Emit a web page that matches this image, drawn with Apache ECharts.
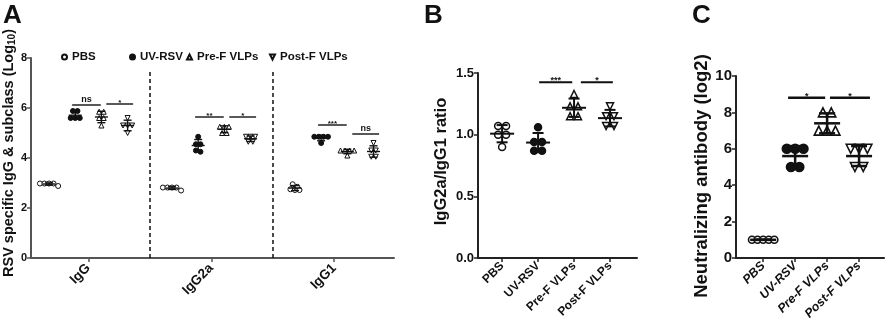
<!DOCTYPE html>
<html><head><meta charset="utf-8">
<script src="https://cdn.jsdelivr.net/npm/echarts@6/dist/echarts.min.js"></script>
<style>html,body{margin:0;padding:0;background:#fff}#c{width:886px;height:335px}</style>
</head><body><div id="c"></div>
<script>
// ---------------- DATA ----------------
const groups = ['PBS', 'UV-RSV', 'Pre-F VLPs', 'Post-F VLPs'];
const isotypes = ['IgG', 'IgG2a', 'IgG1'];
// Panel A: RSV specific IgG & subclass (Log10), per isotype (IgG, IgG2a, IgG1), 5 mice each
const pbsA  = [[2.98, 2.98, 2.98, 2.98, 2.88], [2.82, 2.82, 2.82, 2.82, 2.70], [2.85, 2.95, 2.75, 2.72, 2.72]];
const uvA   = [[5.88, 5.88, 5.60, 5.60, 5.60], [4.85, 4.55, 4.55, 4.30, 4.25], [4.85, 4.85, 4.85, 4.85, 4.60]];
const preA  = [[5.85, 5.85, 5.60, 5.60, 5.30], [5.25, 5.25, 5.25, 5.00, 5.00], [4.30, 4.30, 4.30, 4.30, 4.10]];
const postA = [[5.60, 5.30, 5.30, 5.30, 5.00], [4.85, 4.85, 4.85, 4.65, 4.65], [4.60, 4.30, 4.30, 4.05, 4.05]];
// Panel B: IgG2a/IgG1 ratio
const pbsB  = [1.07, 1.07, 1.00, 1.00, 0.90];
const uvB   = [1.06, 0.94, 0.94, 0.87, 0.87];
const preB  = [1.33, 1.23, 1.23, 1.15, 1.15];
const postB = [1.23, 1.15, 1.15, 1.07, 1.07];
// Panel C: Neutralizing antibody (log2)
const pbsC  = [1, 1, 1, 1, 1];
const uvC   = [6, 6, 6, 5, 5];
const preC  = [8, 8, 7, 7, 7];
const postC = [6, 6, 6, 5, 5];
// significance: [isotype, fromGroup, toGroup, level, label]
const sigA = [[0, 1, 2, 6.12, 'ns'], [0, 2, 3, 6.16, '*'], [1, 1, 2, 5.64, '**'], [1, 2, 3, 5.64, '*'], [2, 1, 2, 5.32, '***'], [2, 2, 3, 4.96, 'ns']];
const sigB = [[1, 2, 1.425, '***'], [2, 3, 1.425, '*']];
const sigC = [[1, 2, 8.8, '*'], [2, 3, 8.8, '*']];

// ---------------- HELPERS ----------------
const FONT = 'Arial, "Liberation Sans", sans-serif';
const INK = '#111';
function mean(a) { return a.reduce((s, v) => s + v, 0) / a.length; }
function sd(a) { const m = mean(a); return Math.sqrt(a.reduce((s, v) => s + (v - m) * (v - m), 0) / (a.length - 1)); }
// arrange points of one group in rows of (nearly) equal value
function layout(values, cx, step, maxW, tol) {
  const sorted = values.slice().sort((a, b) => b - a);
  const rows = [];
  sorted.forEach(v => {
    const r = rows.find(r => Math.abs(r[0] - v) <= tol);
    if (r) r.push(v); else rows.push([v]);
  });
  const out = [];
  rows.forEach(r => {
    const n = r.length;
    const st = n > 1 ? Math.min(step, maxW / (n - 1)) : 0;
    r.forEach((v, k) => out.push([cx + (k - (n - 1) / 2) * st, v]));
  });
  return out;
}
function errRender(meanW, capW, lw) {
  return function (params, api) {
    const x = api.value(0), m = api.value(1), s = api.value(2);
    const c = api.coord([x, m]), t = api.coord([x, m + s]), b = api.coord([x, m - s]);
    const st = { stroke: INK, lineWidth: lw };
    return { type: 'group', children: [
      { type: 'line', shape: { x1: c[0] - meanW / 2, y1: c[1], x2: c[0] + meanW / 2, y2: c[1] }, style: st },
      { type: 'line', shape: { x1: t[0], y1: t[1], x2: b[0], y2: b[1] }, style: st },
      { type: 'line', shape: { x1: t[0] - capW / 2, y1: t[1], x2: t[0] + capW / 2, y2: t[1] }, style: st },
      { type: 'line', shape: { x1: b[0] - capW / 2, y1: b[1], x2: b[0] + capW / 2, y2: b[1] }, style: st }
    ] };
  };
}
function sigRender(labels, lw, fs) {
  return function (params, api) {
    const p1 = api.coord([api.value(0), api.value(2)]);
    const p2 = api.coord([api.value(1), api.value(2)]);
    const lab = labels[params.dataIndex];
    const isStar = lab.indexOf('*') >= 0;
    return { type: 'group', children: [
      { type: 'line', shape: { x1: p1[0], y1: p1[1], x2: p2[0], y2: p2[1] }, style: { stroke: INK, lineWidth: lw } },
      { type: 'text', style: { text: lab, x: (p1[0] + p2[0]) / 2, y: p1[1] - (isStar ? -3 : 1), textAlign: 'center', textVerticalAlign: 'bottom', font: 'bold ' + (isStar ? fs : fs + 1) + 'px ' + FONT, fill: INK } }
    ] };
  };
}
// bar end insets: [from-side for bar 1->2, to-side for 1->2, from-side for 2->3, to-side for 2->3]
function sigEnds(from, to, pos, ins) {
  return from === 1 ? [pos(from) + ins[0], pos(to) + ins[1]] : [pos(from) + ins[2], pos(to) + ins[3]];
}
const symbols = [
  { symbol: 'circle', rot: 0, hollow: true, icon: 'circle' },
  { symbol: 'circle', rot: 0, hollow: false, icon: 'circle' },
  { symbol: 'triangle', rot: 0, hollow: true, icon: 'triangle' },
  { symbol: 'triangle', rot: 180, hollow: true, icon: 'path://M0,0L10,0L5,10Z' }
];
function scatterSeries(name, gi, data, axisIdx, size, bw) {
  const s = symbols[gi];
  return {
    type: 'scatter', name: name, xAxisIndex: axisIdx, yAxisIndex: axisIdx,
    symbol: s.symbol, symbolRotate: s.rot, symbolSize: size, data: data, silent: true, z: 2,
    itemStyle: { color: s.hollow ? '#fff' : INK, borderColor: INK, borderWidth: bw, opacity: 1 }
  };
}

// ---------------- PANEL A ----------------
const Aoff = 0.213;
const posA = (c, g) => (c + 1) + (g - 1.5) * Aoff;
const allA = [pbsA, uvA, preA, postA];
const series = [];
allA.forEach((arr, g) => {
  let pts = [];
  arr.forEach((vals, c) => { pts = pts.concat(layout(vals, posA(c, g), 0.037, 0.15, 0.12)); });
  const ser = scatterSeries(groups[g], g, pts, 0, 5, 1);
  if (g === 0) {
    ser.markLine = { silent: true, symbol: 'none', label: { show: false },
      lineStyle: { color: INK, type: [4, 3], width: 1.5 },
      data: [[{ coord: [1.5, 0] }, { coord: [1.5, 7.5] }], [{ coord: [2.5, 0] }, { coord: [2.5, 7.5] }]] };
  }
  series.push(ser);
});
const errA = [];
allA.forEach((arr, g) => arr.forEach((vals, c) => errA.push([posA(c, g), mean(vals), sd(vals)])));
series.push({ type: 'custom', xAxisIndex: 0, yAxisIndex: 0, renderItem: errRender(13, 8, 1.4), data: errA, z: 5, silent: true });
const sigAData = sigA.map(s => sigEnds(s[1], s[2], g => posA(s[0], g), [-0.025, -0.005, 0.04, 0.045]).concat([s[3]]));
series.push({ type: 'custom', xAxisIndex: 0, yAxisIndex: 0, renderItem: sigRender(sigA.map(s => s[4]), 1.4, 8), data: sigAData, z: 5, silent: true });

// ---------------- PANEL B ----------------
const posBC = g => g + 1;
const allB = [pbsB, uvB, preB, postB];
allB.forEach((vals, g) => {
  series.push(scatterSeries(groups[g] + ' (B)', g, layout(vals, posBC(g), 0.22, 0.6, 0.03), 1, 7, 1.5));
});
series.push({ type: 'custom', xAxisIndex: 1, yAxisIndex: 1, renderItem: errRender(24, 11, 2), data: allB.map((v, g) => [posBC(g), mean(v), sd(v)]), z: 5, silent: true });
const sigBData = sigB.map(s => sigEnds(s[0], s[1], posBC, [0.03, -0.05, 0.19, 0.08]).concat([s[2]]));
series.push({ type: 'custom', xAxisIndex: 1, yAxisIndex: 1, renderItem: sigRender(sigB.map(s => s[3]), 2, 9), data: sigBData, z: 5, silent: true });

// ---------------- PANEL C ----------------
const allC = [pbsC, uvC, preC, postC];
allC.forEach((vals, g) => {
  series.push(scatterSeries(groups[g] + ' (C)', g, layout(vals, posBC(g), 0.26, 0.7, 0.3), 2, g === 0 ? 7 : 9, 1.6));
});
series.push({ type: 'custom', xAxisIndex: 2, yAxisIndex: 2, renderItem: errRender(26, 16, 2.5), data: allC.map((v, g) => [posBC(g), mean(v), sd(v)]), z: 5, silent: true });
const sigCData = sigC.map(s => sigEnds(s[0], s[1], posBC, [-0.22, -0.06, 0.09, 0.34]).concat([s[2]]));
series.push({ type: 'custom', xAxisIndex: 2, yAxisIndex: 2, renderItem: sigRender(sigC.map(s => s[3]), 2.5, 9), data: sigCData, z: 5, silent: true });

// ---------------- AXES ----------------
function yAx(gi, min, max, interval, fs, color, fmt, name, nameGap, nameFs, namePad) {
  return {
    type: 'value', gridIndex: gi, min: min, max: max, interval: interval,
    axisLine: { show: true, lineStyle: { color: color, width: 2 } },
    axisTick: { show: true, length: 4, lineStyle: { color: color, width: 1.5 } },
    splitLine: { show: false },
    axisLabel: { fontFamily: FONT, fontWeight: 'bold', fontSize: fs, color: INK, margin: 4, formatter: fmt },
    name: name, nameLocation: 'middle', nameGap: nameGap, nameRotate: 90,
    nameTextStyle: { fontFamily: FONT, fontWeight: 'bold', fontSize: nameFs, color: INK, padding: namePad,
      rich: { sub: { fontFamily: FONT, fontWeight: 'bold', fontSize: 10, color: INK, padding: [7, 0, 0, 0] } } }
  };
}
function xAx(gi, min, max, vals, names, fs, color, italic, margin) {
  return {
    type: 'value', gridIndex: gi, min: min, max: max,
    axisLine: { show: true, onZero: false, lineStyle: { color: color, width: 2 } },
    axisTick: { show: true, length: 4, customValues: vals, lineStyle: { color: color, width: 1.5 } },
    splitLine: { show: false },
    axisLabel: { customValues: vals, rotate: 45, margin: margin, fontFamily: FONT, fontWeight: 'bold', fontStyle: italic ? 'italic' : 'normal',
      fontSize: fs, color: INK, formatter: v => names[Math.round(v) - 1] }
  };
}

const legendPos = [56, 124, 181, 264];
const option = {
  animation: false,
  backgroundColor: '#fff',
  grid: [
    { left: 29.5, top: 58, width: 364.5, height: 200 },
    { left: 478, top: 73, width: 159, height: 185 },
    { left: 736, top: 76, width: 148, height: 182 }
  ],
  xAxis: [
    xAx(0, 0.534, 3.486, [1, 2, 3], isotypes, 13.5, '#555', false, 8),
    xAx(1, 0.33, 4.75, [1, 2, 3, 4], groups, 12, '#222', false, 6),
    xAx(2, 0.15, 4.78, [1, 2, 3, 4], groups, 12.5, '#222', true, 6)
  ],
  yAxis: [
    yAx(0, 0, 8, 2, 11, '#555', v => String(v), 'RSV specific IgG & subclass (Log{sub|10})', 13, 14.5, [0, 0, 0, 10]),
    yAx(1, 0, 1.5, 0.5, 13, '#222', v => v.toFixed(1), 'IgG2a/IgG1 ratio', 28, 16.5, [0, 0, 0, 8]),
    yAx(2, 0, 10, 2, 15, '#222', v => String(v), 'Neutralizing antibody (log2)', 18, 18.5, [0, 18, 0, 0])
  ],
  legend: groups.map((gname, g) => ({
    data: [{ name: gname, icon: symbols[g].icon }], left: legendPos[g], top: 46, itemWidth: 5, itemHeight: 5, selectedMode: false,
    textStyle: { fontFamily: FONT, fontWeight: 'bold', fontSize: 11.5, color: INK }
  })),
  graphic: [
    { type: 'text', left: 3, top: 3, style: { text: 'A', font: 'bold 26px ' + FONT, fill: INK } },
    { type: 'text', left: 424, top: 3, style: { text: 'B', font: 'bold 26px ' + FONT, fill: INK } },
    { type: 'text', left: 692, top: 3, style: { text: 'C', font: 'bold 26px ' + FONT, fill: INK } }
  ],
  series: series
};
const chart = echarts.init(document.getElementById('c'), null, { renderer: 'canvas' });
chart.setOption(option);
</script>
</body></html>
